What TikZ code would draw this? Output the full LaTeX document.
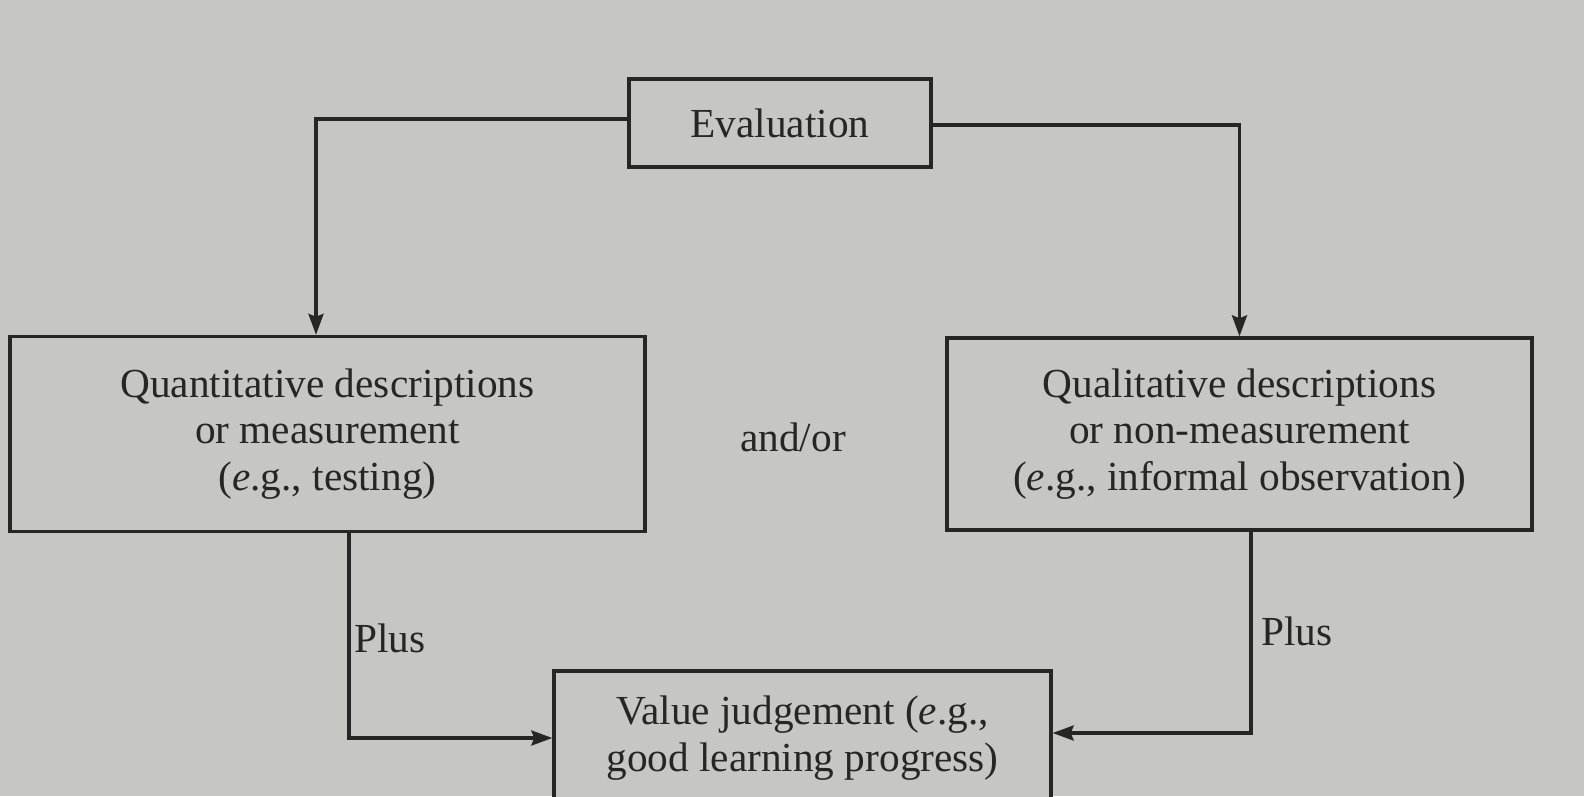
\documentclass[tikz,border=0pt]{standalone}
\usepackage{fontspec}
\setmainfont{Liberation Serif}
\usetikzlibrary{positioning, arrows.meta}
\definecolor{paper}{RGB}{198,198,194}
\definecolor{ink}{RGB}{38,38,36}
\begin{document}
\begin{tikzpicture}[
      font=\fontsize{23.5}{26.5}\selectfont,
      top/.style={rectangle, draw=ink, fill=paper, line width=1.9pt, minimum width=6.04cm, minimum height=1.76cm, align=center, text=ink},
      sub/.style={rectangle, draw=ink, fill=paper, line width=1.9pt, minimum height=3.9cm, align=center, text=ink},
      result/.style={rectangle, draw=ink, fill=paper, line width=1.9pt, minimum width=9.94cm, minimum height=2.68cm, align=center, text=ink},
      lbl/.style={text=ink},
      arrow/.style={->, draw=ink, line width=1.9pt, >={Stealth[length=0.42cm, width=0.3cm, inset=0.06cm]}}
    ]
    \fill[paper] (0,0) rectangle (31.68,-15.92);
    \clip (0,0) rectangle (31.68,-15.92);

    \node[top] (eval) at (15.6,-2.46) {Evaluation};

    \node[sub, minimum width=12.7cm] (quant) at (6.55,-8.68) {Quantitative descriptions \\ or measurement \\ (\textit{e}.g., testing)};
    \node[sub, minimum width=11.7cm, minimum height=3.84cm] (qual) at (24.79,-8.68) {Qualitative descriptions \\ or non-measurement \\ (\textit{e}.g., informal observation)};
    \node[lbl] (andor) at (15.86,-8.74) {and/or};

    \node[result] (value) at (16.05,-14.76) {Value judgement (\textit{e}.g., \\ good learning progress)};

    \node[lbl] (plusl) at (7.8,-12.76) {Plus};
    \node[lbl] (plusr) at (25.94,-12.62) {Plus};

    \draw[arrow] ([yshift=0.08cm]eval.west) -| ([xshift=-0.23cm]quant.north);
    \draw[arrow] ([yshift=-0.04cm]eval.east) -| (qual.north);
    \draw[arrow] ([xshift=0.43cm]quant.south) |- (value.west);
    \draw[arrow] ([xshift=0.23cm]qual.south) |- ([yshift=0.1cm]value.east);

  \end{tikzpicture}
\end{document}
